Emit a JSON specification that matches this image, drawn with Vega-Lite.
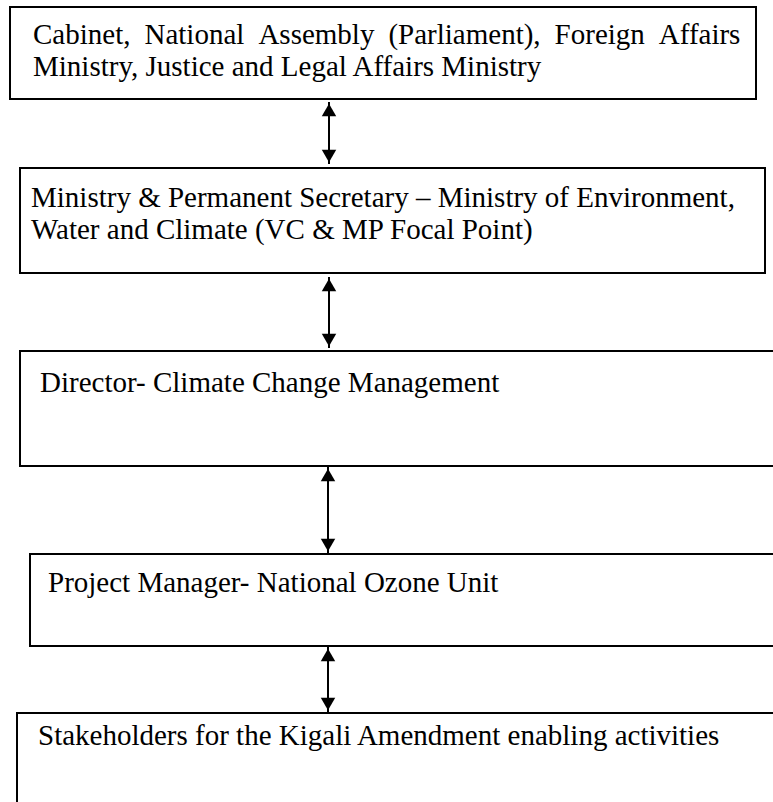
{
  "$schema": "https://vega.github.io/schema/vega-lite/v6.json",
  "width": 773,
  "height": 802,
  "autosize": {"type": "fit", "contains": "padding"},
  "padding": 0,
  "background": "white",
  "config": {"view": {"stroke": null}},
  "layer": [
    {
      "data": {"values": [
        {"box": 1, "left": 10, "right": 756, "top": 7, "bottom": 99},
        {"box": 2, "left": 20, "right": 765, "top": 168, "bottom": 273},
        {"box": 3, "left": 20, "right": 790, "top": 351, "bottom": 466},
        {"box": 4, "left": 30, "right": 790, "top": 554, "bottom": 646},
        {"box": 5, "left": 17, "right": 790, "top": 713, "bottom": 820}
      ]},
      "mark": {"type": "rect", "fill": "white", "stroke": "black", "strokeWidth": 2, "clip": true},
      "encoding": {
        "x": {"field": "left", "type": "quantitative", "scale": {"domain": [0, 773], "nice": false, "zero": false}, "axis": null},
        "x2": {"field": "right"},
        "y": {"field": "top", "type": "quantitative", "scale": {"domain": [0, 802], "nice": false, "zero": false, "reverse": true}, "axis": null},
        "y2": {"field": "bottom"}
      }
    },
    {
      "data": {"values": [
        {"x": 329, "top": 102, "bottom": 164},
        {"x": 329, "top": 277, "bottom": 348},
        {"x": 328, "top": 467, "bottom": 553},
        {"x": 328, "top": 647, "bottom": 712}
      ]},
      "mark": {"type": "rule", "color": "black", "strokeWidth": 2},
      "encoding": {
        "x": {"field": "x", "type": "quantitative"},
        "y": {"field": "top", "type": "quantitative"},
        "y2": {"field": "bottom"}
      }
    },
    {
      "data": {"values": [
        {"x": 329, "y": 110, "dir": "up"},
        {"x": 329, "y": 156, "dir": "down"},
        {"x": 329, "y": 285, "dir": "up"},
        {"x": 329, "y": 340, "dir": "down"},
        {"x": 328, "y": 475, "dir": "up"},
        {"x": 328, "y": 545, "dir": "down"},
        {"x": 328, "y": 655, "dir": "up"},
        {"x": 328, "y": 704, "dir": "down"}
      ]},
      "mark": {"type": "point", "filled": true, "color": "black", "size": 210, "opacity": 1},
      "encoding": {
        "x": {"field": "x", "type": "quantitative"},
        "y": {"field": "y", "type": "quantitative"},
        "shape": {"field": "dir", "type": "nominal", "scale": {"domain": ["up", "down"], "range": ["triangle-up", "triangle-down"]}, "legend": null}
      }
    },
    {
      "data": {"values": [
        {"x": 33, "y": 44, "label": "Cabinet,"},
        {"x": 144.5, "y": 44, "label": "National"},
        {"x": 258.4, "y": 44, "label": "Assembly"},
        {"x": 388.4, "y": 44, "label": "(Parliament),"},
        {"x": 554.6, "y": 44, "label": "Foreign"},
        {"x": 658.8, "y": 44, "label": "Affairs"},
        {"x": 33, "y": 76, "label": "Ministry, Justice and Legal Affairs Ministry"},
        {"x": 31, "y": 207, "label": "Ministry & Permanent Secretary – Ministry of Environment,"},
        {"x": 31, "y": 239, "label": "Water and Climate (VC & MP Focal Point)"},
        {"x": 40, "y": 392, "label": "Director- Climate Change Management"},
        {"x": 48, "y": 592, "label": "Project Manager- National Ozone Unit"},
        {"x": 38, "y": 745, "label": "Stakeholders for the Kigali Amendment enabling activities"}
      ]},
      "mark": {"type": "text", "align": "left", "baseline": "alphabetic", "font": "Liberation Serif", "fontSize": 29, "color": "black"},
      "encoding": {
        "x": {"field": "x", "type": "quantitative"},
        "y": {"field": "y", "type": "quantitative"},
        "text": {"field": "label", "type": "nominal"}
      }
    }
  ]
}
